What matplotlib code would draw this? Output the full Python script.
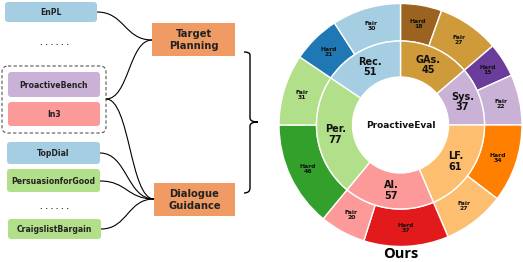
import matplotlib
matplotlib.use("Agg")
import matplotlib.pyplot as plt
import numpy as np
from matplotlib.patches import FancyBboxPatch, Rectangle, PathPatch
from matplotlib.path import Path

# donut data (clockwise from top)
categories = ["GAs.", "Sys.", "LF.", "Al.", "Per.", "Rec."]
totals = [45, 37, 61, 57, 77, 51]
hard = [18, 15, 34, 37, 46, 21]
fair = [27, 22, 27, 20, 31, 30]
light_colors = ["#cf9a3a", "#cab2d6", "#fdbf6f", "#fb9a99", "#b2df8a", "#a6cee3"]
dark_colors = ["#9b6320", "#6a3d9a", "#ff7f00", "#e31a1c", "#33a02c", "#1f78b4"]

# left diagram: datasets and their box colours
datasets = ["EnPL", "ProactiveBench", "In3", "TopDial", "PersuasionforGood", "CraigslistBargain"]
dataset_colors = ["#a6cee3", "#cab2d6", "#fb9a99", "#a6cee3", "#b2df8a", "#b2df8a"]
groups = ["Target\nPlanning", "Dialogue\nGuidance"]

W, H = 523, 262
fig = plt.figure(figsize=(W / 100, H / 100), dpi=100)
ax = fig.add_axes([0, 0, 1, 1])
ax.set_xlim(0, W)
ax.set_ylim(H, 0)
ax.axis("off")

font = "DejaVu Sans"

# dataset boxes (x0, y0, x1, y1 in pixels, y downward)
boxes = [(5, 2, 97, 22), (8, 72, 100, 97), (8, 102, 100, 126),
         (7, 142, 100, 164), (7, 169, 100, 192), (8, 219, 101, 239)]
for name, col, (x0, y0, x1, y1) in zip(datasets, dataset_colors, boxes):
    ax.add_patch(FancyBboxPatch((x0 + 3, y0 + 3), x1 - x0 - 6, y1 - y0 - 6,
                                boxstyle="round,pad=3", fc=col, ec="none"))
    ax.text((x0 + x1) / 2, (y0 + y1) / 2 + 0.5, name, ha="center", va="center",
            fontsize=5.6, fontweight="bold", family=font, color="#222222")

# dashed group box
ax.add_patch(FancyBboxPatch((8, 72), 92, 55, boxstyle="round,pad=6",
                            fc="none", ec="#555555", lw=0.8, ls=(0, (3, 2))))

for yy in [43, 207]:
    ax.text(54, yy, ". . . . . .", ha="center", va="center", fontsize=5,
            fontweight="bold", color="#333333")

# group boxes
gboxes = [(152, 23, 235, 56), (154, 183, 235, 216)]
for name, (x0, y0, x1, y1) in zip(groups, gboxes):
    ax.add_patch(Rectangle((x0, y0), x1 - x0, y1 - y0, fc="#ef9b63", ec="none"))
    ax.text((x0 + x1) / 2, (y0 + y1) / 2 + 0.5, name, ha="center", va="center",
            fontsize=7.2, fontweight="bold", family=font, color="#222222",
            linespacing=1.25)


def connector(p0, p1):
    xm = (p0[0] + p1[0]) / 2
    path = Path([p0, (xm, p0[1]), (xm, p1[1]), p1],
                [Path.MOVETO, Path.CURVE4, Path.CURVE4, Path.CURVE4])
    ax.add_patch(PathPatch(path, fc="none", ec="black", lw=0.8))


tp = (152, 40)
dg = (154, 199)
connector((97, 12), tp)
connector((106, 99), tp)
connector((106, 99), dg)
connector((100, 153), dg)
connector((100, 181), dg)
connector((101, 229), dg)

# curly brace
bx = 250
verts = [(244, 52), (250, 52), (bx, 55), (bx, 60),
         (bx, 118), (bx, 122), (258, 122),
         (bx, 122), (bx, 126), (bx, 130),
         (bx, 188), (bx, 193), (244, 193)]
codes = [Path.MOVETO, Path.CURVE3, Path.CURVE3, Path.LINETO,
         Path.LINETO, Path.CURVE3, Path.CURVE3,
         Path.CURVE3, Path.CURVE3, Path.LINETO,
         Path.LINETO, Path.CURVE3, Path.CURVE3]
ax.add_patch(PathPatch(Path(verts, codes), fc="none", ec="black", lw=1.0))

# donut
cx, cy, R = 400.5, 125, 121.5
lim = 1.07
size = 2 * lim * R
ax2 = fig.add_axes([(cx - size / 2) / W, 1 - (cy + size / 2) / H, size / W, size / H])

outer_vals, outer_cols, outer_labels = [], [], []
for i in range(len(categories)):
    outer_vals += [hard[i], fair[i]]
    outer_cols += [dark_colors[i], light_colors[i]]
    outer_labels += [f"Hard\n{hard[i]}", f"Fair\n{fair[i]}"]

r_in = 84 / R
r_hole = 48 / R
w_out, _ = ax2.pie(outer_vals, radius=1, colors=outer_cols, startangle=90,
                   counterclock=False,
                   wedgeprops=dict(width=1 - r_in, edgecolor="white", linewidth=1))
w_in, _ = ax2.pie(totals, radius=r_in, colors=light_colors, startangle=90,
                  counterclock=False,
                  wedgeprops=dict(width=r_in - r_hole, edgecolor="white", linewidth=1))


def mid(w, r):
    a = np.deg2rad((w.theta1 + w.theta2) / 2)
    return r * np.cos(a), r * np.sin(a)


for w, lab in zip(w_out, outer_labels):
    x, y = mid(w, (1 + r_in) / 2)
    ax2.text(x, y, lab, ha="center", va="center", fontsize=4.4, fontweight="bold",
             color="#111111", linespacing=1.0)
for w, cat, t in zip(w_in, categories, totals):
    x, y = mid(w, (r_in + r_hole) / 2)
    ax2.text(x, y, f"{cat}\n{t}", ha="center", va="center", fontsize=7,
             fontweight="bold", color="#111111", linespacing=1.05)
ax2.text(0, 0, "ProactiveEval", ha="center", va="center", fontsize=6.5,
         fontweight="bold", color="#111111")
ax2.set_xlim(-lim, lim)
ax2.set_ylim(-lim, lim)
ax2.set_aspect("equal")
ax2.axis("off")

ax.text(cx, 254, "Ours", ha="center", va="center", fontsize=10.5,
        fontweight="bold", family="Open Sans", color="black")

fig.savefig("out.png", dpi=100)
